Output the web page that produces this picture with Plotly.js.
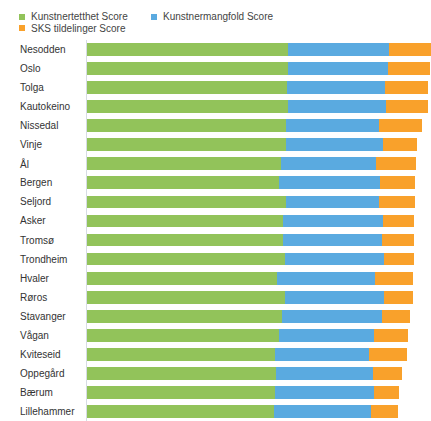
<!DOCTYPE html>
<html><head><meta charset="utf-8">
<script src="https://cdn.plot.ly/plotly-3.0.1.min.js"></script>
<style>html,body{margin:0;padding:0;background:#fff}#c{width:431px;height:421px}</style>
</head><body><div id="c"></div>
<script>
const municipalities = ["Nesodden","Oslo","Tolga","Kautokeino","Nissedal","Vinje","Ål","Bergen","Seljord","Asker","Tromsø","Trondheim","Hvaler","Røros","Stavanger","Vågan","Kviteseid","Oppegård","Bærum","Lillehammer"];
const kunstnertetthet = [201,201,200,201,199,199,194,192,199,196,196,198,190,198,195,192,188,189,188,187];
const kunstnermangfold = [101,100,98,98,93,97,95,101,93,100,99,99,98,99,100,95,94,97,99,97];
const sksTildelinger = [46,42,43,42,43,34,40,35,36,31,32,30,38,29,28,34,38,29,25,27];
const seriesNames = ["Kunstnertetthet Score","Kunstnermangfold Score","SKS tildelinger Score"];
const colors = ["#92C35A","#5AAAE0","#F9A12B"];

const series = [kunstnertetthet, kunstnermangfold, sksTildelinger];
const traces = series.map((vals,i)=>({
  type:'bar', orientation:'h', name:seriesNames[i],
  x: vals, y: municipalities, marker:{color:colors[i], line:{width:0}},
  hoverinfo:'skip', showlegend:false
}));

const W = 431, H = 421, L = 87, T = 40, B = 0;
const PW = W - L, PH = H - T - B;
const px = x => (x - L) / PW;
const py = y => (H - B - y) / PH;
const FONT = 'Liberation Sans, Arial, sans-serif';

const annotations = municipalities.map(m=>({
  xref:'paper', yref:'y', x:px(18), y:m, text:m, xanchor:'left', yanchor:'middle',
  showarrow:false, font:{family:FONT, size:10, color:'#333333'}
}));

// custom legend (two rows, as in the reference)
const legendPos = [{sx:19, tx:29, cy:17}, {sx:151, tx:161, cy:17}, {sx:19, tx:29, cy:28}];
const shapes = [];
seriesNames.forEach((n,i)=>{
  const p = legendPos[i];
  shapes.push({type:'rect', xref:'paper', yref:'paper', x0:px(p.sx), x1:px(p.sx+6), y0:py(p.cy+3), y1:py(p.cy-3),
    fillcolor:colors[i], line:{width:0}, layer:'above'});
  annotations.push({xref:'paper', yref:'paper', x:px(p.tx), y:py(p.cy), text:n, xanchor:'left', yanchor:'middle',
    showarrow:false, font:{family:FONT, size:10, color:'#444444'}});
});

const layout = {
  width:W, height:H,
  margin:{l:L, r:0, t:T, b:B, pad:0},
  barmode:'stack', bargap:0.33,
  paper_bgcolor:'#ffffff', plot_bgcolor:'#ffffff',
  font:{family:FONT, size:10, color:'#333333'},
  showlegend:false,
  xaxis:{range:[0,344], visible:false, showgrid:false, zeroline:false, fixedrange:true},
  yaxis:{autorange:'reversed', showticklabels:false, ticks:'', showgrid:false, zeroline:false,
    showline:true, linecolor:'#d6dce4', linewidth:1, fixedrange:true},
  annotations: annotations,
  shapes: shapes
};
Plotly.newPlot('c', traces, layout, {displayModeBar:false, staticPlot:true});
</script></body></html>
